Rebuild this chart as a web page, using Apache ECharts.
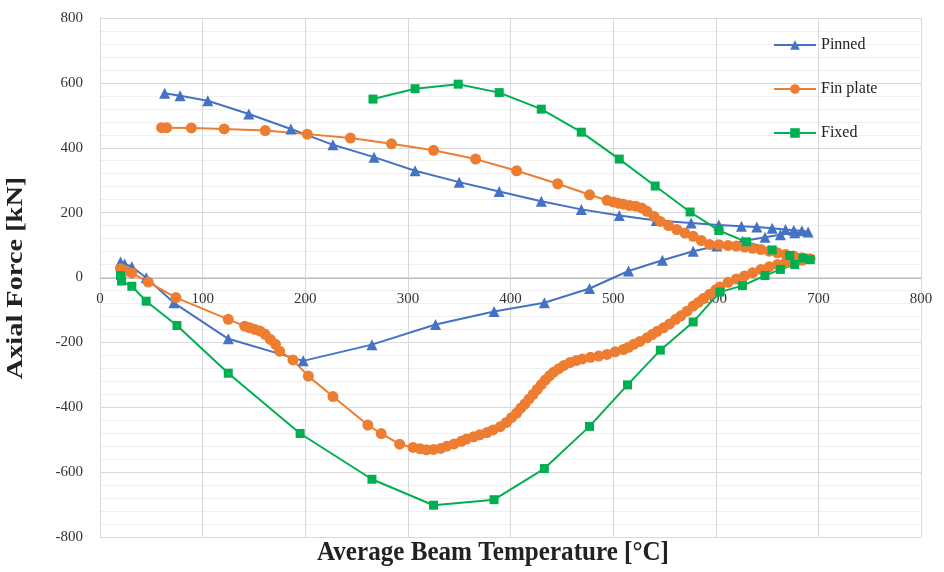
<!DOCTYPE html>
<html>
<head>
<meta charset="utf-8">
<script src="https://cdn.jsdelivr.net/npm/echarts@6/dist/echarts.min.js"></script>
<style>html,body{margin:0;padding:0;background:#fff}#c{width:944px;height:572px}</style>
</head>
<body>
<div id="c"></div>
<script>
var seriesNames = ['Pinned', 'Fin plate', 'Fixed'];
var xTicks = [0, 100, 200, 300, 400, 500, 600, 700, 800];
var yTicks = [-800, -600, -400, -200, 0, 200, 400, 600, 800];

var pinnedT = [20,24,31,45,72,125,198,265,327,384,433,477,515,548,578,601,626,648,663,677,690,
  684,676,668,655,640,625,603,576,542,506,469,430,389,350,307,267,227,186,145,105,78,63];
var pinnedF = [48,42,33,-1,-78,-189,-257,-207,-145,-105,-78,-34,20,53,81,97,112,124,132,138,140,
  144,146,148,152,156,158,162,168,176,191,210,235,265,294,329,371,409,458,504,545,560,568];

var finT = [20,22,25,31,47,74,125,141,146,151,156,161,166,171,175,188,203,227,261,274,292,305,312,318,325,332,338,345,352,357,364,370,377,383,390,396,401,406,410,414,418,422,426,430,434,438,442,447,452,458,464,470,478,486,494,502,510,515,520,526,533,538,543,549,555,561,566,572,578,583,588,594,600,604,612,620,628,636,644,652,660,668,676,684,692,
  684,676,668,660,652,644,636,628,620,612,603,594,586,578,570,562,554,546,540,533,528,522,516,510,505,500,494,477,446,406,366,325,284,244,202,161,121,89,65,60];
var finF = [27,24,20,14,-14,-62,-129,-150,-155,-160,-165,-175,-191,-206,-227,-254,-304,-367,-455,-481,-514,-524,-528,-531,-530,-527,-520,-513,-505,-498,-491,-485,-478,-470,-460,-447,-432,-418,-403,-390,-375,-360,-345,-330,-316,-303,-292,-281,-271,-262,-256,-251,-246,-242,-237,-229,-222,-215,-206,-197,-186,-176,-166,-155,-143,-129,-118,-104,-88,-77,-65,-52,-38,-29,-15,-5,5,15,25,33,40,45,50,53,58,
  61,66,71,76,81,86,90,94,97,99,101,102,114,127,137,148,160,173,188,204,214,220,222,226,229,233,238,255,289,329,365,392,412,430,442,453,458,461,462,462];

var fixedT = [20,21,31,45,75,125,195,265,325,384,433,477,514,546,578,604,626,648,663,677,692,
  685,672,655,630,603,575,541,506,469,430,389,349,307,266];
var fixedF = [6,-11,-27,-73,-148,-295,-481,-622,-702,-685,-589,-459,-331,-224,-137,-45,-25,6,25,40,55,
  60,68,85,110,145,202,282,365,448,519,570,596,582,550];

function pairs(t, f) { return t.map(function (v, i) { return [v, f[i]]; }); }

var colors = ['#4472C4', '#ED7D31', '#00B050'];
var font = '"Liberation Serif", "Times New Roman", serif';

var chart = echarts.init(document.getElementById('c'), null, {renderer: 'canvas'});
chart.setOption({
  animation: false,
  color: colors,
  textStyle: {fontFamily: font},
  grid: {left: 100, right: 23, top: 18, bottom: 35, containLabel: false, outerBoundsMode: 'none'},
  legend: {
    orient: 'vertical', left: 768, top: 32, itemWidth: 42, itemHeight: 12, itemGap: 28,
    textStyle: {fontFamily: font, fontSize: 16, color: '#222'},
    data: seriesNames
  },
  graphic: [{
    type: 'text', x: 493, y: 553, scaleX: 0.93,
    style: {text: 'Average Beam Temperature [°C]', font: 'bold 27px ' + font, fill: '#222',
            textAlign: 'center', textVerticalAlign: 'middle'}
  }, {
    type: 'text', x: 16, y: 278, rotation: Math.PI / 2, scaleX: 1.05, scaleY: 0.85,
    style: {text: 'Axial Force [kN]', font: 'bold 27px ' + font, fill: '#222',
            textAlign: 'center', textVerticalAlign: 'middle'}
  }],
  xAxis: {
    type: 'value', min: xTicks[0], max: xTicks[xTicks.length - 1], interval: 100,
    offset: -259,
    axisLine: {show: true, onZero: false, lineStyle: {color: '#bfbfbf', width: 1}},
    axisTick: {show: false},
    axisLabel: {fontFamily: font, fontSize: 15, color: '#333', margin: 14},
    splitLine: {show: true, lineStyle: {color: '#d9d9d9', width: 1}}
  },
  yAxis: {
    type: 'value', min: yTicks[0], max: yTicks[yTicks.length - 1], interval: 200,
    axisLine: {show: false},
    axisTick: {show: false},
    axisLabel: {fontFamily: font, fontSize: 15, color: '#333', margin: 17},
    splitLine: {show: true, lineStyle: {color: '#d9d9d9', width: 1}},
    minorTick: {show: false, splitNumber: 5},
    minorSplitLine: {show: true, lineStyle: {color: '#efefef', width: 1}}
  },
  series: [
    {name: seriesNames[0], type: 'line', data: pairs(pinnedT, pinnedF), symbol: 'triangle', symbolSize: 11,
     lineStyle: {width: 2}, itemStyle: {color: colors[0]}},
    {name: seriesNames[1], type: 'line', data: pairs(finT, finF), symbol: 'circle', symbolSize: 11,
     lineStyle: {width: 2}, itemStyle: {color: colors[1]}},
    {name: seriesNames[2], type: 'line', data: pairs(fixedT, fixedF), symbol: 'rect', symbolSize: 9,
     lineStyle: {width: 2}, itemStyle: {color: colors[2]}}
  ]
});
</script>
</body>
</html>
